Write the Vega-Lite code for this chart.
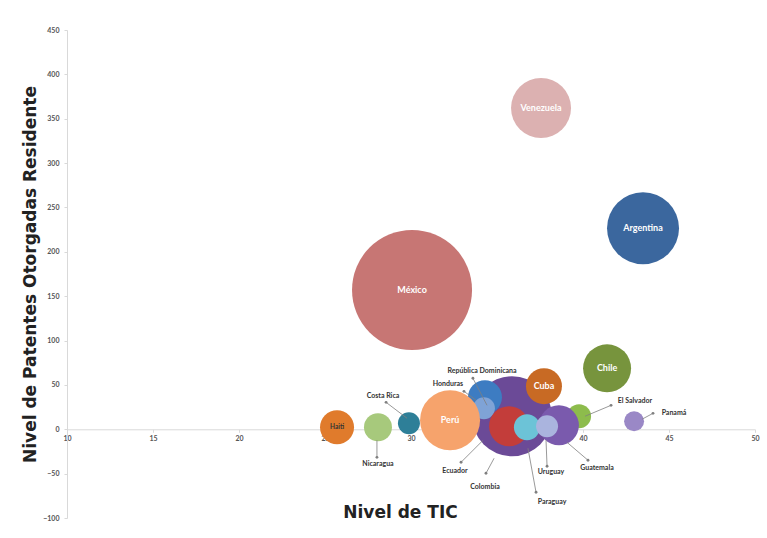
{
  "$schema": "https://vega.github.io/schema/vega-lite/v6.json",
  "width": 688,
  "height": 488,
  "autosize": "none",
  "padding": {"left": 67, "top": 30, "right": 12, "bottom": 20},
  "background": "white",
  "config": {"view": {"stroke": null}, "axis": {"grid": false}},
  "datasets": {
    "bubbles": [
      {"pais": "México", "tic": 30.06, "patentes": 157, "tam": 3600, "dentro": "México"},
      {"pais": "Venezuela", "tic": 37.56, "patentes": 362, "tam": 900, "dentro": "Venezuela"},
      {"pais": "Argentina", "tic": 43.49, "patentes": 226.5, "tam": 1296, "dentro": "Argentina"},
      {"pais": "Chile", "tic": 41.4, "patentes": 68.7, "tam": 576, "dentro": "Chile"},
      {"pais": "Colombia", "tic": 35.87, "patentes": 14.7, "tam": 1600, "dentro": ""},
      {"pais": "República Dominicana", "tic": 34.3, "patentes": 36.1, "tam": 289, "dentro": ""},
      {"pais": "Honduras", "tic": 34.24, "patentes": 23.7, "tam": 121, "dentro": ""},
      {"pais": "Cuba", "tic": 37.73, "patentes": 48.5, "tam": 324, "dentro": "Cuba"},
      {"pais": "Perú", "tic": 32.27, "patentes": 10.1, "tam": 900, "dentro": "Perú"},
      {"pais": "Ecuador", "tic": 35.7, "patentes": 3.4, "tam": 400, "dentro": ""},
      {"pais": "El Salvador", "tic": 39.77, "patentes": 14.7, "tam": 144, "dentro": ""},
      {"pais": "Guatemala", "tic": 38.6, "patentes": 4.5, "tam": 400, "dentro": ""},
      {"pais": "Paraguay", "tic": 36.74, "patentes": 2.3, "tam": 169, "dentro": ""},
      {"pais": "Uruguay", "tic": 37.91, "patentes": 3.4, "tam": 121, "dentro": ""},
      {"pais": "Haiti", "tic": 25.7, "patentes": 2.3, "tam": 289, "dentro": "Haiti"},
      {"pais": "Nicaragua", "tic": 28.08, "patentes": 2.3, "tam": 196, "dentro": ""},
      {"pais": "Costa Rica", "tic": 29.88, "patentes": 6.8, "tam": 121, "dentro": ""},
      {"pais": "Panamá", "tic": 42.97, "patentes": 9.0, "tam": 100, "dentro": ""}
    ],
    "etiquetas": [
      {"pais": "República Dominicana", "tx": 34.13, "ty": 65.4, "x1": 34.42, "y1": 27.0, "x2": 33.6, "y2": 57.5},
      {"pais": "Honduras", "tx": 32.15, "ty": 50.7, "x1": 33.78, "y1": 32.7, "x2": 33.08, "y2": 42.8},
      {"pais": "Costa Rica", "tx": 28.37, "ty": 37.2, "x1": 29.77, "y1": 12.4, "x2": 28.55, "y2": 30.4},
      {"pais": "Nicaragua", "tx": 28.08, "ty": -39.4, "x1": 28.02, "y1": -12.4, "x2": 28.02, "y2": -31.6},
      {"pais": "Ecuador", "tx": 32.56, "ty": -47.3, "x1": 34.19, "y1": -12.4, "x2": 32.91, "y2": -37.2},
      {"pais": "Colombia", "tx": 34.3, "ty": -65.4, "x1": 34.83, "y1": -32.7, "x2": 34.36, "y2": -49.6},
      {"pais": "Paraguay", "tx": 38.2, "ty": -82.3, "x1": 36.8, "y1": -21.4, "x2": 37.27, "y2": -71.0},
      {"pais": "Uruguay", "tx": 38.14, "ty": -48.5, "x1": 37.85, "y1": -12.4, "x2": 37.91, "y2": -41.7},
      {"pais": "Guatemala", "tx": 40.81, "ty": -44.0, "x1": 39.07, "y1": -14.7, "x2": 40.29, "y2": -34.9},
      {"pais": "El Salvador", "tx": 43.02, "ty": 31.6, "x1": 40.12, "y1": 14.7, "x2": 41.63, "y2": 27.0},
      {"pais": "Panamá", "tx": 45.29, "ty": 18.0, "x1": 43.43, "y1": 11.3, "x2": 44.07, "y2": 18.0}
    ]
  },
  "layer": [
    {
      "data": {"name": "bubbles"},
      "mark": {"type": "circle", "opacity": 1},
      "encoding": {
        "x": {
          "field": "tic", "type": "quantitative",
          "scale": {"domain": [10, 50], "nice": false, "zero": false},
          "axis": {
            "orient": "bottom", "offset": -88.7,
            "values": [10, 15, 20, 25, 30, 35, 40, 45, 50],
            "labelFont": "Lato", "labelFontSize": 7, "labelFontWeight": "bold", "labelColor": "#555555",
            "labelPadding": 2, "labelFlush": false,
            "domainColor": "#d9d9d9", "tickColor": "#d9d9d9", "tickSize": 3,
            "title": "Nivel de TIC", "titleFont": "DejaVu Sans", "titleFontSize": 17, "titleFontWeight": "bold",
            "titleColor": "#222222", "titleX": 333, "titleY": 83, "titleAlign": "center", "titleBaseline": "middle", "titleAnchor": null
          }
        },
        "y": {
          "field": "patentes", "type": "quantitative",
          "scale": {"domain": [-100, 450], "nice": false, "zero": false},
          "axis": {
            "values": [-100, -50, 0, 50, 100, 150, 200, 250, 300, 350, 400, 450],
            "labelFont": "Lato", "labelFontSize": 7, "labelFontWeight": "bold", "labelColor": "#555555",
            "labelPadding": 5, "labelFlush": false,
            "domainColor": "#d9d9d9", "tickColor": "#d9d9d9", "tickSize": 3,
            "title": "Nivel de Patentes Otorgadas Residente", "titleFont": "DejaVu Sans", "titleFontSize": 17, "titleFontWeight": "bold",
            "titleColor": "#222222", "titleX": -37, "titleY": 244, "titleAngle": 270, "titleAlign": "center", "titleBaseline": "middle", "titleAnchor": null
          }
        },
        "size": {"field": "tam", "type": "quantitative", "scale": {"domain": [0, 3600], "range": [0, 14400], "zero": true}, "legend": null},
        "color": {
          "field": "pais", "type": "nominal", "legend": null,
          "scale": {
            "domain": ["México", "Venezuela", "Argentina", "Chile", "Colombia", "República Dominicana", "Honduras", "Cuba", "Perú", "Ecuador", "El Salvador", "Guatemala", "Paraguay", "Uruguay", "Haiti", "Nicaragua", "Costa Rica", "Panamá"],
            "range": ["#c77674", "#dcb1b1", "#3b679e", "#77943d", "#6b4a97", "#3d7cc2", "#7fa3d6", "#c86a24", "#f6a36c", "#c33d3a", "#8dbc4c", "#7a5aad", "#6cc3d7", "#aab4de", "#e07b2c", "#a7c97c", "#2e7f98", "#9a88c6"]
          }
        }
      }
    },
    {
      "data": {"name": "bubbles"},
      "transform": [{"filter": "datum.dentro != '' && datum.pais != 'Haiti'"}],
      "mark": {"type": "text", "font": "Lato", "fontWeight": "bold", "fontSize": 9, "color": "white", "align": "center", "baseline": "middle"},
      "encoding": {
        "x": {"field": "tic", "type": "quantitative"},
        "y": {"field": "patentes", "type": "quantitative"},
        "text": {"field": "dentro"}
      }
    },
    {
      "data": {"name": "bubbles"},
      "transform": [{"filter": "datum.pais == 'Haiti'"}],
      "mark": {"type": "text", "font": "Lato", "fontWeight": "bold", "fontSize": 6.5, "color": "#333333", "align": "center", "baseline": "middle"},
      "encoding": {
        "x": {"field": "tic", "type": "quantitative"},
        "y": {"field": "patentes", "type": "quantitative"},
        "text": {"field": "dentro"}
      }
    },
    {
      "data": {"name": "etiquetas"},
      "mark": {"type": "rule", "color": "#7f7f7f", "strokeWidth": 0.8},
      "encoding": {
        "x": {"field": "x1", "type": "quantitative"},
        "y": {"field": "y1", "type": "quantitative"},
        "x2": {"field": "x2"},
        "y2": {"field": "y2"}
      }
    },
    {
      "data": {"name": "etiquetas"},
      "mark": {"type": "point", "shape": "circle", "filled": true, "color": "#7f7f7f", "size": 8, "opacity": 1},
      "encoding": {
        "x": {"field": "x2", "type": "quantitative"},
        "y": {"field": "y2", "type": "quantitative"}
      }
    },
    {
      "data": {"name": "etiquetas"},
      "mark": {"type": "text", "font": "Lato", "fontWeight": "bold", "fontSize": 7, "color": "#333333", "align": "center", "baseline": "middle"},
      "encoding": {
        "x": {"field": "tx", "type": "quantitative"},
        "y": {"field": "ty", "type": "quantitative"},
        "text": {"field": "pais"}
      }
    }
  ]
}
